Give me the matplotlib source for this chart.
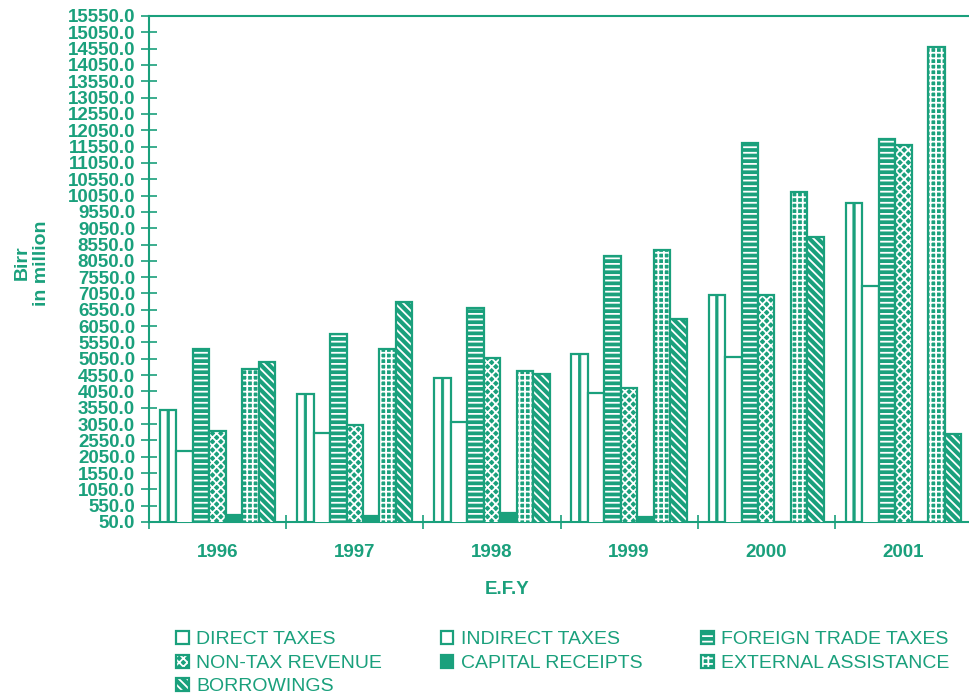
import numpy as np
import matplotlib
matplotlib.use("Agg")
import matplotlib.pyplot as plt
from matplotlib.patches import Patch
from matplotlib.legend_handler import HandlerTuple

# 값 (Birr in million, 그림에서 읽음)
years = ["1996", "1997", "1998", "1999", "2000", "2001"]
direct_taxes = [3480, 3970, 4450, 5190, 7000, 9810]
indirect_taxes = [2230, 2770, 3120, 4010, 5090, 7290]
foreign_trade_taxes = [5340, 5800, 6600, 8200, 11650, 11770]
non_tax_revenue = [2850, 3020, 5080, 4160, 7000, 11590]
capital_receipts = [250, 230, 330, 190, 60, 55]
external_assistance = [4730, 5340, 4680, 8380, 10170, 14590]
borrowings = [4960, 6800, 4570, 6260, 8770, 2740]

labels = ["DIRECT TAXES", "INDIRECT TAXES", "FOREIGN TRADE TAXES",
          "NON-TAX REVENUE", "CAPITAL RECEIPTS", "EXTERNAL ASSISTANCE",
          "BORROWINGS"]
series = [direct_taxes, indirect_taxes, foreign_trade_taxes, non_tax_revenue,
          capital_receipts, external_assistance, borrowings]

TEAL = "#1aa07c"
# (face, hatch) per series; hatch drawn white on teal
styles = [
    ("white", None),
    ("white", None),
    (TEAL, "---"),
    (TEAL, "xxxx"),
    (TEAL, None),
    (TEAL, "+++"),
    (TEAL, "\\\\\\\\"),
]

plt.rcParams["font.family"] = ["Liberation Sans", "DejaVu Sans"]
plt.rcParams["hatch.linewidth"] = 1.3


def main():
    fig = plt.figure(figsize=(9.69, 6.99), dpi=100)
    ax = fig.add_axes([149 / 969, 1 - 522 / 699, 823 / 969, 506 / 699])

    n = len(series)
    width = 0.12
    x = np.arange(len(years)) + 0.5
    handles = []
    for i, (vals, (face, hatch)) in enumerate(zip(series, styles)):
        pos = x + (i - (n - 1) / 2) * width
        ax.bar(pos, vals, width, color=face, edgecolor="white", hatch=hatch,
               linewidth=0, zorder=2 + i)
        if i == 0:
            # 가운데 세로줄
            ax.bar(pos, vals, width * 0.14, color=TEAL, edgecolor=TEAL,
                   linewidth=0.6, zorder=2 + i, snap=False)
        ax.bar(pos, vals, width, fill=False, edgecolor=TEAL, linewidth=1.6,
               zorder=2 + i)
        h1 = Patch(facecolor=face, edgecolor="white", hatch=hatch, linewidth=0)
        h2 = Patch(fill=False, edgecolor=TEAL, linewidth=1.6)
        handles.append((h1, h2))

    ax.set_xlim(0, 6)
    ax.set_ylim(50, 15550)
    yt = np.arange(50, 15551, 500)
    ax.set_yticks(yt)
    ax.set_yticklabels([f"{v:.1f}" for v in yt], fontweight="bold")
    ax.tick_params(axis="y", direction="inout", length=12, width=1.2,
                   color=TEAL, labelcolor=TEAL, labelsize=13.5, pad=4)
    ax.set_xticks(np.arange(0, 7))
    ax.set_xticklabels([])
    ax.set_xticks(x, minor=True)
    ax.set_xticklabels(years, minor=True, fontweight="bold")
    ax.tick_params(axis="x", which="major", direction="inout", length=10,
                   width=1.2, color=TEAL)
    ax.tick_params(axis="x", which="minor", length=0, labelcolor=TEAL,
                   labelsize=13.5, pad=16)

    for side in ["left", "bottom", "top"]:
        ax.spines[side].set_color(TEAL)
        ax.spines[side].set_linewidth(1.5)
    ax.spines["right"].set_visible(False)

    fig.text(32 / 969, 1 - 263 / 699, "Birr\nin million", rotation=90,
             ha="center", va="center", multialignment="center",
             fontsize=14, fontweight="bold", color=TEAL)
    fig.text(507 / 969, 1 - 589 / 699, "E.F.Y", ha="center", va="center",
             fontsize=13.5, fontweight="bold", color=TEAL)

    order = [0, 3, 6, 1, 4, 2, 5]
    leg = fig.legend([handles[k] for k in order], [labels[k] for k in order],
                     handler_map={tuple: HandlerTuple(ndivide=1)},
                     loc="upper left", bbox_to_anchor=(176 / 969, 1 - 631 / 699),
                     ncol=3, frameon=False, fontsize=14, handlelength=0.65,
                     handleheight=0.65, handletextpad=0.4, columnspacing=3.0,
                     labelspacing=0.32, borderpad=0, borderaxespad=0)
    for t in leg.get_texts():
        t.set_color(TEAL)

    fig.savefig("out.png", dpi=100, facecolor="white")
    plt.close(fig)


if __name__ == "__main__":
    main()
